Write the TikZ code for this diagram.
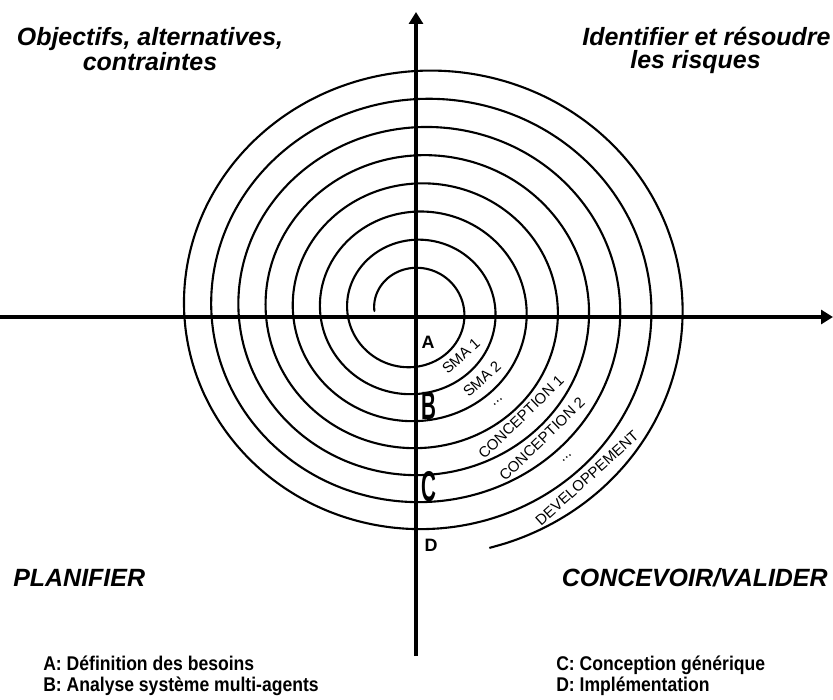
\documentclass[tikz,border=0pt]{standalone}
\usepackage{fontspec}
\setmainfont{Liberation Sans}
\usetikzlibrary{positioning,arrows.meta}

\tikzstyle{axe}=[line width=1.8pt, -{Triangle[length=2.4mm, width=2.8mm]}]
\tikzstyle{spire}=[line width=1.2pt, line cap=round]
\tikzstyle{phase}=[font=\fontsize{14.2}{12.8}\selectfont\bfseries\itshape, inner sep=0pt]
\tikzstyle{jalon}=[font=\fontsize{10.2}{12}\selectfont\bfseries, inner sep=0pt]
\tikzstyle{iter}=[font=\fontsize{8.5}{10}\selectfont, inner sep=0pt, rotate=42]
\tikzstyle{legende}=[font=\fontsize{11.3}{13}\selectfont\bfseries, inner sep=0pt, xscale=0.885, anchor=base west]

\begin{document}
\begin{tikzpicture}[x=0.02cm, y=-0.02cm]

    \useasboundingbox (0,0) rectangle (833,700);

% axes
    \coordinate (ouest) at (0,317);
    \coordinate (est) at (833,317);
    \coordinate (sud) at (416,656);
    \coordinate (nord) at (416,12);

    \draw[axe] (ouest) -- (est);
    \draw[axe] (sud) -- (nord);

% spirale
    \draw[spire] plot[domain=-0.25:7.47, samples=700, smooth, variable=\t]
        ({412+2*\t+(44.4+29.2*\t)*sin(360*\t)}, {310.8-0.6*\t-(42.8+27.6*\t)*cos(360*\t)});

% quadrants
    \node (objectifs) [phase, align=center, anchor=north] at (150,27) {Objectifs, alternatives,\\contraintes};
    \node (risques) [phase, align=left, anchor=north west] at (582,27) {Identifier et résoudre\\\hspace*{0.96cm}les risques};
    \node (planifier) [phase, anchor=base west] at (13,586) {PLANIFIER};
    \node (valider) [phase, anchor=base east] at (828,586) {CONCEVOIR/VALIDER};

% jalons
    \node (ja) [jalon] at (428,342) {A};
    \node (jb) [jalon, xscale=1.15, yscale=2.2] at (429,406) {B};
    \node (jc) [jalon, xscale=1.15, yscale=2.4] at (429,487) {C};
    \node (jd) [jalon] at (431,545) {D};

% iterations
    \node (sma1) [iter] at (461,356) {SMA 1};
    \node (sma2) [iter] at (482,379) {SMA 2};
    \node (pts1) [iter] at (498,402) {...};
    \node (conc1) [iter, rotate=2] at (521,417) {CONCEPTION 1};
    \node (conc2) [iter, rotate=2] at (542,439) {CONCEPTION 2};
    \node (pts2) [iter] at (567,458) {...};
    \node (dev) [iter] at (587,478) {DEVELOPPEMENT};

% legende
    \node (lega) [legende] at (43,670) {A: Définition des besoins};
    \node (legb) [legende, below=4.4mm of lega.base west, anchor=base west] {B: Analyse système multi-agents};
    \node (legc) [legende] at (556,670) {C: Conception générique};
    \node (legd) [legende, below=4.4mm of legc.base west, anchor=base west] {D: Implémentation};

\end{tikzpicture}
\end{document}
